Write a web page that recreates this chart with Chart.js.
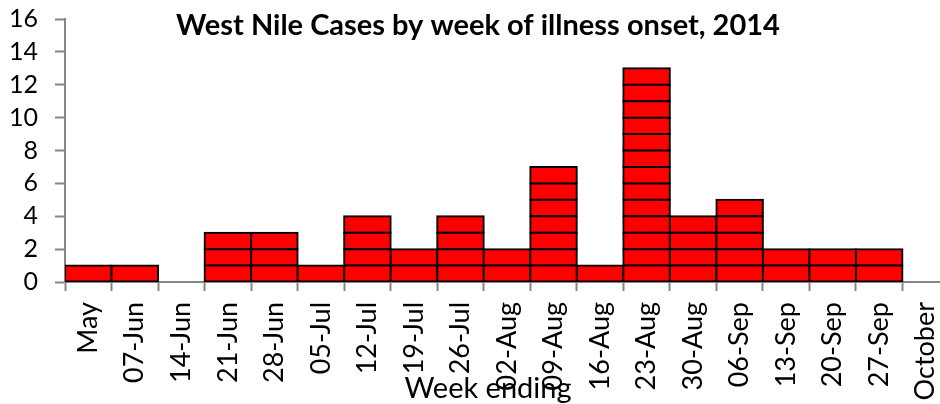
<!DOCTYPE html>
<html>
<head>
<meta charset="utf-8">
<script src="https://cdn.jsdelivr.net/npm/chart.js@4/dist/chart.umd.min.js"></script>
<style>
html,body{margin:0;padding:0;overflow:hidden;background:#fff;width:940px;height:404px}
#c{display:block}
</style>
</head>
<body>
<canvas id="c" width="949" height="404"></canvas>
<script>
// ---- data ----
const weeks = ['May','07-Jun','14-Jun','21-Jun','28-Jun','05-Jul','12-Jul','19-Jul','26-Jul','02-Aug','09-Aug','16-Aug','23-Aug','30-Aug','06-Sep','13-Sep','20-Sep','27-Sep','October'];
const cases = [1,1,0,3,3,1,4,2,4,2,7,1,13,4,5,2,2,2,0];
const yMin = 0;
const yMax = 16;
const yStep = 2;
const chartTitle = 'West Nile Cases by week of illness onset, 2014';
const xAxisTitle = 'Week ending';

// one stacked dataset per case "layer" so every case is its own box
const maxCases = Math.max(...cases);
const datasets = [];
for (let k = 1; k <= maxCases; k++) {
  datasets.push({
    label: 'Case ' + k,
    data: cases.map(v => (v >= k ? 1 : null)),
    backgroundColor: '#FF0000',
    borderColor: '#000000',
    borderWidth: 2,
    borderSkipped: false,
    inflateAmount: 1,
    categoryPercentage: 1.0,
    barPercentage: 1.0,
    stack: 'cases'
  });
}

const textOverlay = {
  id: 'textOverlay',
  afterDraw(chart) {
    const ctx = chart.ctx;
    ctx.save();
    ctx.fillStyle = '#000';
    ctx.textAlign = 'center';
    ctx.textBaseline = 'alphabetic';
    ctx.font = 'bold 29px Lato';
    ctx.fillText(chartTitle, 478, 35);
    ctx.font = '29px Lato';
    ctx.fillText(xAxisTitle, 488, 398);
    ctx.restore();
  }
};

const AXIS = '#868686';

function build() {
  new Chart(document.getElementById('c'), {
    type: 'bar',
    data: { labels: weeks, datasets },
    options: {
      responsive: false,
      animation: false,
      devicePixelRatio: 1,
      layout: { padding: { left: 10, right: 0, top: 19, bottom: 0 } },
      plugins: { legend: { display: false }, tooltip: { enabled: false }, title: { display: false } },
      scales: {
        x: {
          stacked: true,
          offset: true,
          grid: { display: true, drawOnChartArea: false, drawTicks: true, tickLength: 9, tickColor: AXIS, tickWidth: 2, offset: true },
          border: { display: true, color: AXIS, width: 2 },
          ticks: { autoSkip: false, maxRotation: 90, minRotation: 90, color: '#000', font: { family: 'Lato', size: 27 }, padding: 11 },
          title: { display: false, text: xAxisTitle },
          afterFit(scale) { scale.height = 122; scale.paddingLeft = 0; scale.paddingRight = 0; }
        },
        y: {
          stacked: true,
          min: yMin,
          max: yMax,
          ticks: { stepSize: yStep, autoSkip: false, color: '#000', font: { family: 'Lato', size: 25 }, padding: 17 },
          grid: { display: true, drawOnChartArea: false, drawTicks: true, tickLength: 10, tickColor: AXIS, tickWidth: 2 },
          border: { display: true, color: AXIS, width: 2 },
          afterFit(scale) { scale.width = 55; scale.paddingTop = 0; scale.paddingBottom = 0; }
        }
      }
    },
    plugins: [textOverlay]
  });
}

if (document.fonts && document.fonts.load) {
  Promise.all([document.fonts.load('25px Lato'), document.fonts.load('bold 29px Lato')]).then(build, build);
} else {
  build();
}
</script>
</body>
</html>
